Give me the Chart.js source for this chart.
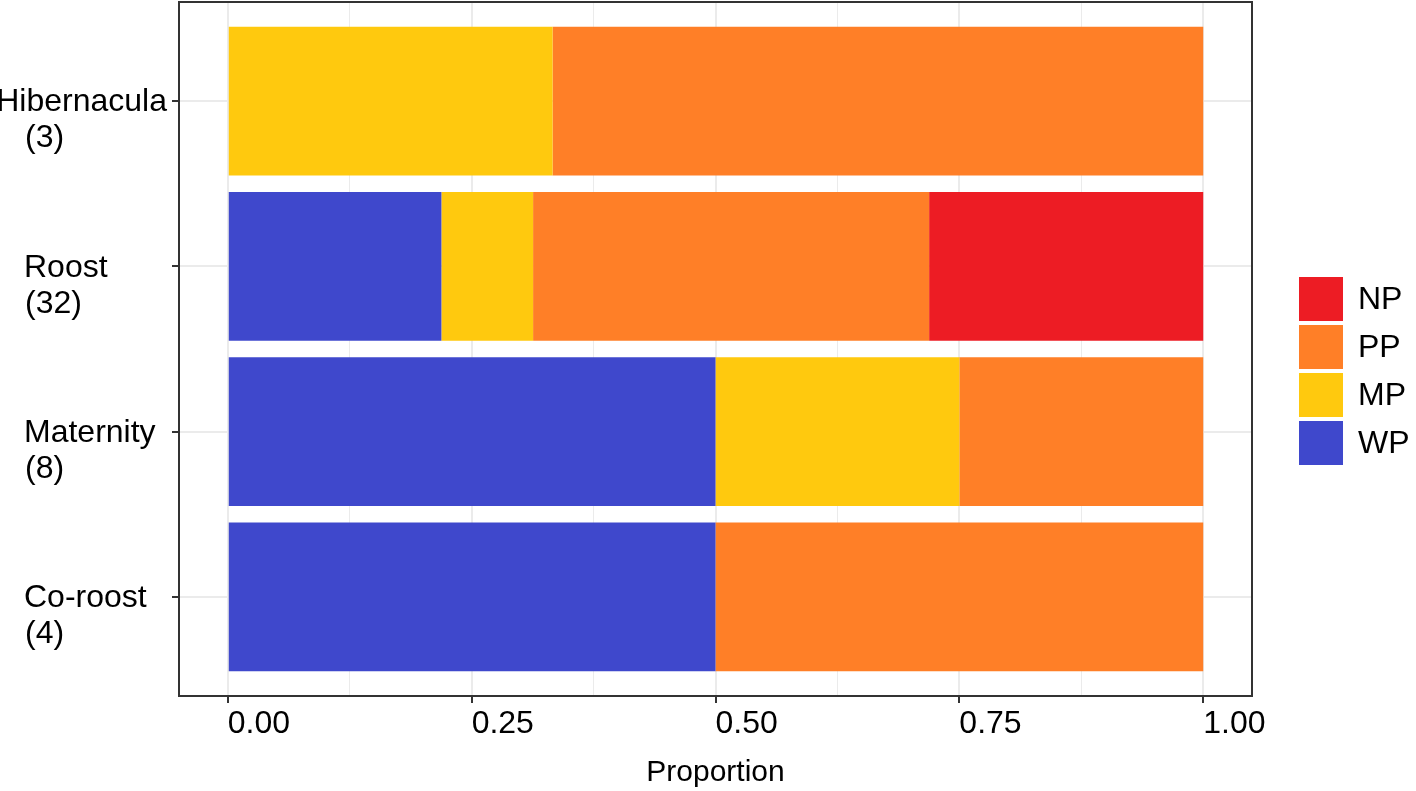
<!DOCTYPE html>
<html>
<head>
<meta charset="utf-8">
<title>Proportion by roost type</title>
<script src="https://cdn.jsdelivr.net/npm/chart.js@4.4.1/dist/chart.umd.min.js"></script>
<style>
    html, body { margin: 0; padding: 0; background: #fff; }
    #wrap { position: relative; width: 1416px; height: 791px; }
</style>
</head>
<body>
<div id="wrap"><canvas id="chart"></canvas></div>
<script>
// Data
const categories = ['Hibernacula', 'Roost', 'Maternity', 'Co-roost'];
const sampleSizes = [3, 32, 8, 4];
const wpValues = [0, 0.219, 0.5, 0.5];
const mpValues = [0.333, 0.094, 0.25, 0];
const ppValues = [0.667, 0.406, 0.25, 0.5];
const npValues = [0, 0.281, 0, 0];
const xTickValues = [0, 0.25, 0.5, 0.75, 1];
const xMinorValues = [0.125, 0.375, 0.625, 0.875];

const colors = { WP: '#3F48CC', MP: '#FFC90E', PP: '#FF7F27', NP: '#ED1C24' };
const FONT = "'Liberation Sans', Arial, Helvetica, sans-serif";

function series(label, values) {
    return {
        label: label,
        data: values.map((v, i) => ({ x: v, y: i })),
        backgroundColor: colors[label],
        borderWidth: 0,
        barPercentage: 0.9,
        categoryPercentage: 1.0,
        stack: 'p'
    };
}

function isMajor(tick) {
    return tick && xTickValues.includes(tick.value);
}

// y labels: name on the tick, sample size underneath
const yLabels = {
    id: 'yLabels',
    afterDraw(chart) {
        const ctx = chart.ctx;
        const yScale = chart.scales.y;
        ctx.save();
        ctx.font = '32px ' + FONT;
        ctx.fillStyle = '#000';
        ctx.textAlign = 'left';
        ctx.textBaseline = 'middle';
        categories.forEach((name, i) => {
            const y = yScale.getPixelForValue(i);
            const w = ctx.measureText(name).width;
            const x = Math.min(24, yScale.right - 12 - w);
            ctx.fillText(name, x, y + 1.5);
            ctx.fillText('(' + sampleSizes[i] + ')', 25, y + 37.5);
        });
        ctx.restore();
    }
};

// legend to the right of the panel, reversed stack order
const sideLegend = {
    id: 'sideLegend',
    afterDraw(chart) {
        const ctx = chart.ctx;
        const left = chart.chartArea.right + 47;
        const top = 277;
        const items = chart.data.datasets.slice().reverse();
        ctx.save();
        ctx.font = '32px ' + FONT;
        ctx.textAlign = 'left';
        ctx.textBaseline = 'middle';
        items.forEach((ds, i) => {
            const y = top + i * 48;
            ctx.fillStyle = ds.backgroundColor;
            ctx.fillRect(left, y, 44, 44);
            ctx.fillStyle = '#000';
            ctx.fillText(ds.label, left + 59, y + 23);
        });
        ctx.restore();
    }
};

// panel border
const panelBorder = {
    id: 'panelBorder',
    afterDatasetsDraw(chart) {
        const { ctx, chartArea } = chart;
        ctx.save();
        ctx.strokeStyle = '#333333';
        ctx.lineWidth = 2;
        ctx.strokeRect(chartArea.left, chartArea.top, chartArea.width, chartArea.height);
        ctx.restore();
    }
};

new Chart(document.getElementById('chart'), {
    type: 'bar',
    data: {
        datasets: [
            series('WP', wpValues),
            series('MP', mpValues),
            series('PP', ppValues),
            series('NP', npValues)
        ]
    },
    options: {
        indexAxis: 'y',
        responsive: true,
        maintainAspectRatio: false,
        animation: false,
        layout: { padding: { top: 2, right: 164, left: 0, bottom: 0 } },
        plugins: {
            legend: { display: false },
            tooltip: { enabled: false }
        },
        scales: {
            x: {
                type: 'linear',
                min: -0.05,
                max: 1.05,
                stacked: true,
                afterBuildTicks: scale => {
                    scale.ticks = xTickValues.concat(xMinorValues)
                        .sort((a, b) => a - b)
                        .map(v => ({ value: v }));
                },
                afterFit: scale => { scale.height = 95; },
                border: { display: false },
                grid: {
                    color: '#EBEBEB',
                    lineWidth: c => isMajor(c.tick) ? 2 : 1,
                    tickLength: 7,
                    tickWidth: 2,
                    tickColor: c => isMajor(c.tick) ? '#333333' : 'rgba(0,0,0,0)'
                },
                ticks: {
                    align: 'start',
                    padding: 2,
                    autoSkip: false,
                    maxRotation: 0,
                    color: '#000',
                    font: { size: 32, family: FONT, lineHeight: 1.2 },
                    callback: v => xTickValues.includes(v) ? v.toFixed(2) : ''
                },
                title: {
                    display: true,
                    text: 'Proportion',
                    color: '#000',
                    font: { size: 30, family: FONT, lineHeight: 1.2 },
                    padding: { top: 0, bottom: 0 }
                }
            },
            y: {
                type: 'linear',
                min: -0.6,
                max: 3.6,
                reverse: true,
                stacked: true,
                offset: false,
                afterBuildTicks: scale => {
                    scale.ticks = categories.map((c, i) => ({ value: i }));
                },
                afterFit: scale => { scale.width = 179; },
                border: { display: false },
                grid: {
                    offset: false,
                    color: '#EBEBEB',
                    lineWidth: 2,
                    tickLength: 7,
                    tickWidth: 2,
                    tickColor: '#333333'
                },
                ticks: { display: false }
            }
        }
    },
    plugins: [yLabels, sideLegend, panelBorder]
});
</script>
</body>
</html>
